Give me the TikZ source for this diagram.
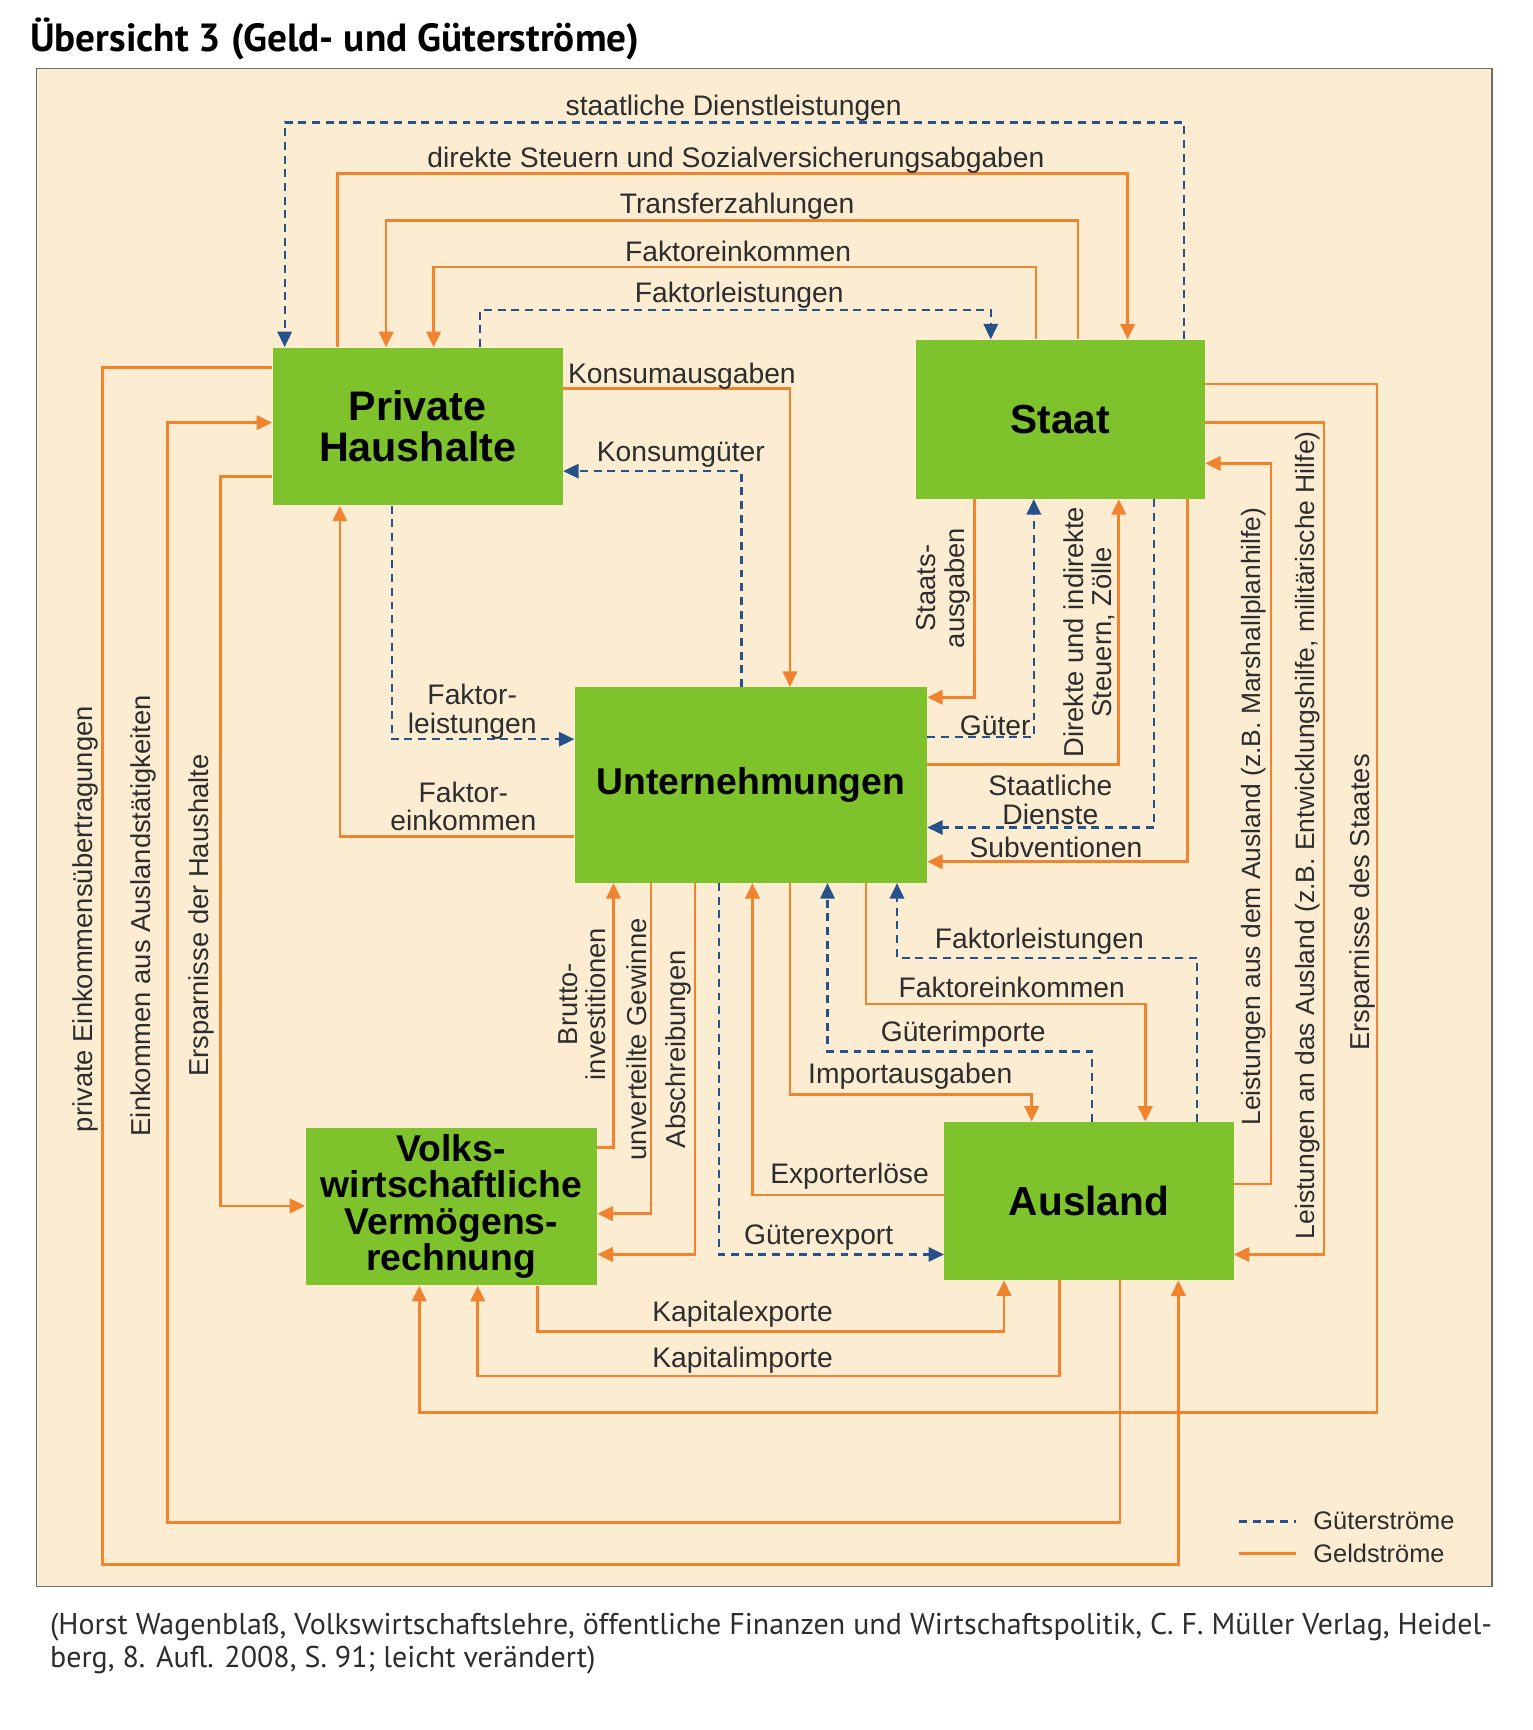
\documentclass[tikz,border=0pt]{standalone}
\usepackage{fontspec}
\setmainfont{Liberation Sans}
\newfontfamily\ptsans{PT Sans}
\usetikzlibrary{arrows.meta}
\definecolor{orgc}{RGB}{241,130,46}
\definecolor{bluc}{RGB}{38,82,140}
\definecolor{grnc}{RGB}{126,195,44}
\definecolor{creamc}{RGB}{252,236,210}
\definecolor{framec}{RGB}{110,110,110}
\definecolor{txtc}{RGB}{45,45,45}
\newcommand{\lblf}{\fontsize{12.8}{12.8}\selectfont}
\newcommand{\rlblf}{\fontsize{12.4}{12.8}\selectfont}
\begin{document}
\begin{tikzpicture}[x=0.5pt,y=-0.5pt,
  box/.style={fill=grnc, draw=none, inner sep=0pt, align=center, text=black, font=\bfseries},
  geld/.style={draw=orgc, line width=1.2pt, -{Triangle[length=7pt,width=6.5pt]}},
  gut/.style={draw=bluc, line width=1pt, dash pattern=on 3.6pt off 2.6pt, -{Triangle[length=7pt,width=6.5pt]}},
  lbl/.style={font=\lblf, text=txtc, inner sep=0pt, align=center},
  rlbl/.style={lbl, font=\rlblf, rotate=90}]
\useasboundingbox (0,0) rectangle (1389,1568);
\fill[white] (0,0) rectangle (1389,1568);
\draw[fill=creamc, draw=framec, line width=0.8pt] (33,62) rectangle (1352,1438);
% title and caption
\node[anchor=west, inner sep=0pt, font=\ptsans\bfseries\fontsize{17.8}{20}\selectfont, text=black] (title) at (27,35) {Übersicht 3 (Geld- und Güterströme)};
\node[anchor=west, inner sep=0pt, font=\ptsans\fontsize{13.6}{15}\selectfont, text=txtc] (cap1) at (45,1475) {(Horst Wagenblaß, Volkswirtschaftslehre, öffentliche Finanzen und Wirtschaftspolitik, C. F. Müller Verlag, Heidel-};
\node[anchor=west, inner sep=0pt, font=\ptsans\fontsize{13.6}{15}\selectfont, text=txtc] (cap2) at (45,1505) {berg, 8. Aufl. 2008, S. 91; leicht verändert)};
% boxes
\node[box, minimum width=131.5pt, minimum height=71.5pt, font=\bfseries\fontsize{18.7}{18.5}\selectfont] (PH) at (378.5,386.5) {Private\\Haushalte};
\node[box, minimum width=131pt, minimum height=72pt, font=\bfseries\fontsize{18.4}{18.4}\selectfont] (ST) at (961,380) {Staat};
\node[box, minimum width=159.5pt, minimum height=88.5pt, font=\bfseries\fontsize{16.9}{17}\selectfont] (UN) at (680.5,711.5) {Unternehmungen};
\node[box, minimum width=132pt, minimum height=71.5pt, font=\bfseries\fontsize{16.9}{16.5}\selectfont] (VV) at (409,1093.5) {Volks-\\wirtschaftliche\\Vermögens-\\rechnung};
\node[box, minimum width=131pt, minimum height=71.5pt, font=\bfseries\fontsize{18.4}{18.4}\selectfont] (AU) at (987,1088.5) {Ausland};
% top flows
\draw[gut] (ST.north -| 1073,0) -- (1073,111) -- (258,111) -- (PH.north -| 258,0);
\draw[geld] (PH.north -| 306,0) -- (306,157) -- (1022,157) -- (ST.north -| 1022,0);
\draw[geld] (ST.north -| 977,0) -- (977,200) -- (350,200) -- (PH.north -| 350,0);
\draw[geld] (ST.north -| 939,0) -- (939,242) -- (393,242) -- (PH.north -| 393,0);
\draw[gut] (PH.north -| 435,0) -- (435,281) -- (898,281) -- (ST.north -| 898,0);
% PH - UN
\draw[geld] (PH.east |- 0,352) -- (716,352) -- (UN.north -| 716,0);
\draw[gut] (UN.north -| 672,0) -- (672,427) -- (PH.east |- 0,427);
\draw[gut] (PH.south -| 355,0) -- (355,670) -- (UN.west |- 0,670);
\draw[geld] (UN.west |- 0,758) -- (308,758) -- (PH.south -| 308,0);
% ST - UN
\draw[geld] (ST.south -| 883,0) -- (883,632) -- (UN.east |- 0,632);
\draw[gut] (UN.east |- 0,668) -- (937,668) -- (ST.south -| 937,0);
\draw[geld] (UN.east |- 0,693) -- (1014,693) -- (ST.south -| 1014,0);
\draw[gut] (ST.south -| 1046,0) -- (1046,750) -- (UN.east |- 0,750);
\draw[geld] (ST.south -| 1076,0) -- (1076,781) -- (UN.east |- 0,781);
% ST - AU
\draw[geld] (AU.east |- 0,1073) -- (1152,1073) -- (1152,420) -- (ST.east |- 0,420);
\draw[geld] (ST.east |- 0,383) -- (1200,383) -- (1200,1137) -- (AU.east |- 0,1137);
\draw[geld] (ST.east |- 0,348) -- (1248,348) -- (1248,1280) -- (380,1280) -- (VV.south -| 380,0);
% left side
\draw[geld] (PH.west |- 0,333) -- (93,333) -- (93,1418) -- (1068,1418) -- (AU.south -| 1068,0);
\draw[geld] (AU.south -| 1015,0) -- (1015,1380) -- (152,1380) -- (152,383) -- (PH.west |- 0,383);
\draw[geld] (PH.west |- 0,432) -- (200,432) -- (200,1093) -- (VV.west |- 0,1093);
% UN - VV
\draw[geld] (VV.east |- 0,1040) -- (556,1040) -- (UN.south -| 556,0);
\draw[geld] (UN.south -| 590,0) -- (590,1100) -- (VV.east |- 0,1100);
\draw[geld] (UN.south -| 630,0) -- (630,1137) -- (VV.east |- 0,1137);
% UN - AU
\draw[gut] (UN.south -| 652,0) -- (652,1137) -- (AU.west |- 0,1137);
\draw[geld] (AU.west |- 0,1083) -- (682,1083) -- (UN.south -| 682,0);
\draw[geld] (UN.south -| 716,0) -- (716,992) -- (935,992) -- (AU.north -| 935,0);
\draw[gut] (AU.north -| 990,0) -- (990,953) -- (750,953) -- (UN.south -| 750,0);
\draw[geld] (UN.south -| 785,0) -- (785,910) -- (1038,910) -- (AU.north -| 1038,0);
\draw[gut] (AU.north -| 1085,0) -- (1085,868) -- (813,868) -- (UN.south -| 813,0);
% VV - AU
\draw[geld] (VV.south -| 487,0) -- (487,1207) -- (910,1207) -- (AU.south -| 910,0);
\draw[geld] (AU.south -| 960,0) -- (960,1247) -- (433,1247) -- (VV.south -| 433,0);
% labels
\node[lbl] (l1) at (665,98) {staatliche Dienstleistungen};
\node[lbl] (l2) at (667,145) {direkte Steuern und Sozialversicherungsabgaben};
\node[lbl] (l3) at (668,187) {Transferzahlungen};
\node[lbl] (l4) at (669,228) {Faktoreinkommen};
\node[lbl] (l5) at (670,268) {Faktorleistungen};
\node[lbl] (l6) at (618,341) {Konsumausgaben};
\node[lbl] (l7) at (617,412) {Konsumgüter};
\node[lbl] (l8) at (428,645) {Faktor-\\leistungen};
\node[lbl] (l9) at (420,731) {Faktor-\\einkommen};
\node[rlbl] (l10) at (855,533) {Staats-\\ausgaben};
\node[lbl] (l11) at (902,658) {Güter};
\node[rlbl] (l12) at (987,573) {Direkte und indirekte\\Steuern, Zölle};
\node[lbl] (l13) at (952,725) {Staatliche\\Dienste};
\node[lbl] (l14) at (957,768) {Subventionen};
\node[rlbl, font=\fontsize{12.0}{12.8}\selectfont] (l15) at (1136,740) {Leistungen aus dem Ausland (z.B. Marshallplanhilfe)};
\node[rlbl, font=\fontsize{12.0}{12.8}\selectfont] (l16) at (1185,757) {Leistungen an das Ausland (z.B. Entwicklungshilfe, militärische Hilfe)};
\node[rlbl] (l17) at (1235,818) {Ersparnisse des Staates};
\node[rlbl] (l18) at (77,833) {private Einkommensübertragungen};
\node[rlbl] (l19) at (130,830) {Einkommen aus Auslandstätigkeiten};
\node[rlbl] (l20) at (183,830) {Ersparnisse der Haushalte};
\node[rlbl] (l21) at (528,910) {Brutto-\\investitionen};
\node[rlbl] (l22) at (577,942) {unverteilte Gewinne};
\node[rlbl] (l23) at (615,951) {Abschreibungen};
\node[lbl] (l24) at (742,1122) {Güterexport};
\node[lbl] (l25) at (770,1066) {Exporterlöse};
\node[lbl] (l26) at (825,975) {Importausgaben};
\node[lbl] (l27) at (873,937) {Güterimporte};
\node[lbl] (l28) at (917,895) {Faktoreinkommen};
\node[lbl] (l29) at (942,853) {Faktorleistungen};
\node[lbl] (l30) at (673,1191) {Kapitalexporte};
\node[lbl] (l31) at (673,1233) {Kapitalimporte};
% legend
\coordinate (lg1a) at (1123,1379);
\coordinate (lg1b) at (1175,1379);
\coordinate (lg2a) at (1123,1408);
\coordinate (lg2b) at (1175,1408);
\draw[draw=bluc, line width=1pt, dash pattern=on 3.6pt off 2.6pt] (lg1a) -- (lg1b);
\draw[draw=orgc, line width=1.2pt] (lg2a) -- (lg2b);
\node[lbl, anchor=west, font=\fontsize{11.5}{12}\selectfont] (lgt1) at (1190,1378) {Güterströme};
\node[lbl, anchor=west, font=\fontsize{11.5}{12}\selectfont] (lgt2) at (1190,1408) {Geldströme};
\end{tikzpicture}
\end{document}
